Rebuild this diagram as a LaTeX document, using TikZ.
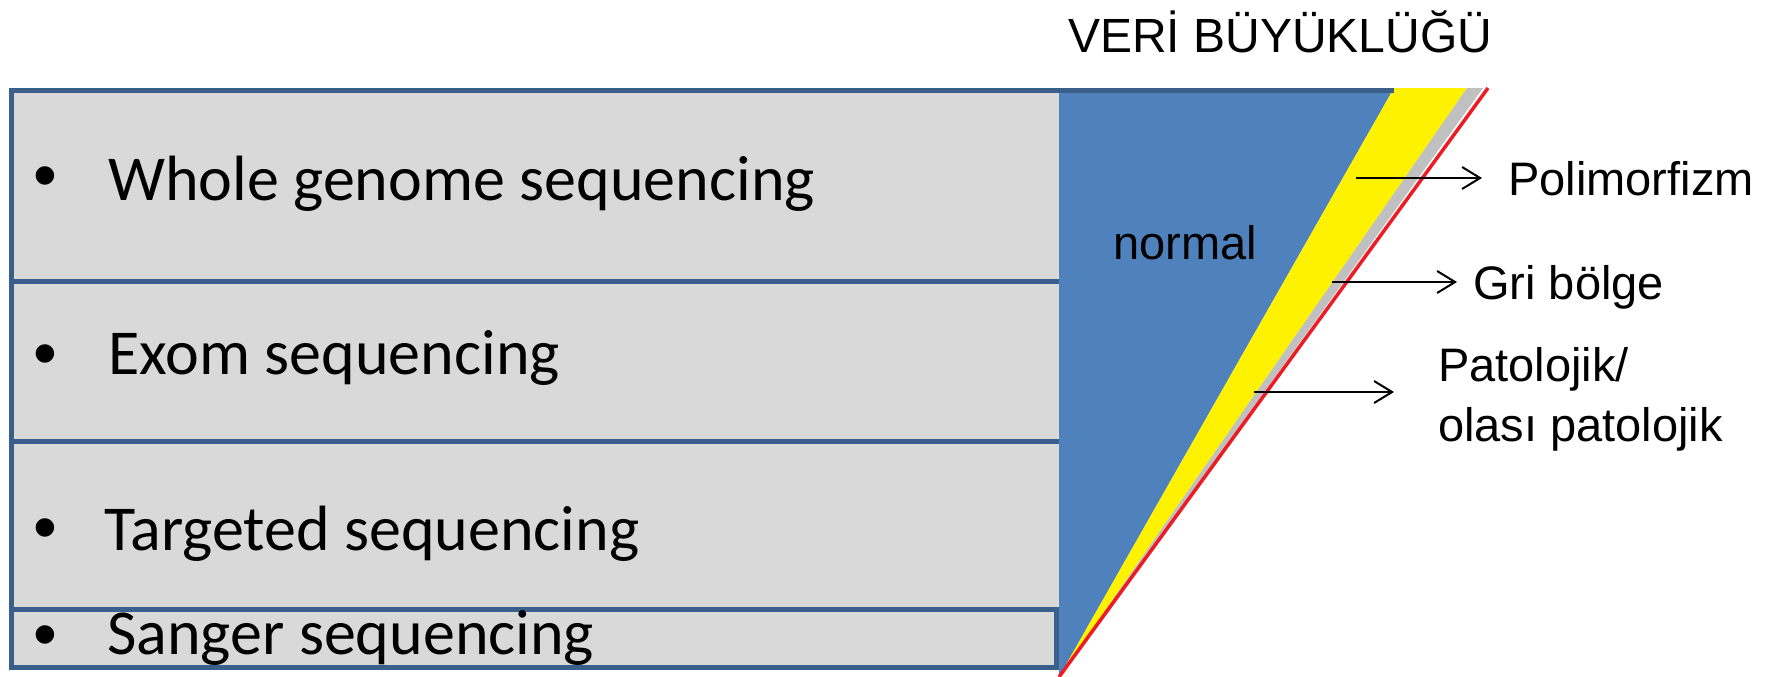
\documentclass[tikz,border=0pt]{standalone}
\usepackage{fontspec}
\usetikzlibrary{arrows.meta}
\newfontfamily\calfont{Carlito}
\newfontfamily\arifont{Liberation Sans}
\definecolor{boxfill}{HTML}{D9D9D9}
\definecolor{boxline}{HTML}{3A5F8B}
\definecolor{triblue}{HTML}{4F81BD}
\definecolor{triyellow}{HTML}{FFF200}
\definecolor{trigray}{HTML}{C0C0C0}
\definecolor{trired}{HTML}{ED1C24}
\tikzset{
  seqbox/.style={fill=boxfill, draw=boxline, line width=5pt},
  seqtext/.style={anchor=base west, inner sep=0pt, font=\calfont\fontsize{64}{77}\selectfont},
  bullet/.style={anchor=base, inner sep=0pt, font=\arifont\fontsize{68}{80}\selectfont},
  lbl/.style={anchor=base west, inner sep=0pt, font=\arifont\fontsize{47}{56}\selectfont},
  arr/.style={line width=2pt, -{Straight Barb[length=18pt,width=22pt,line width=2pt]}}
}
\begin{document}
\begin{tikzpicture}[x=1pt,y=-1pt]
\useasboundingbox (0,0) rectangle (1767,677);
% boxes
\draw[seqbox] (11,90) rectangle (1062,281);
\draw[seqbox] (11,281) rectangle (1062,441);
\draw[seqbox] (11,441) rectangle (1062,609);
\draw[seqbox] (11,609) rectangle (1056,667);
% triangle bands
\coordinate (apex) at (1059,677);
\fill[triblue] (1059,88) -- (1394,88) -- (apex) -- cycle;
\fill[triyellow] (1394,88) -- (1467,88) -- (apex) -- cycle;
\fill[trigray] (1467,88) -- (1483,88) -- (apex) -- cycle;
\draw[trired, line width=3.5pt] (1488,88) -- (apex);
\draw[boxline, line width=5pt] (1056,90) -- (1394,90);
% left texts
\node[bullet] (b1) at (45,198) {•};
\node[seqtext] (t1) at (108,200) {Whole genome sequencing};
\node[bullet] (b2) at (45,376) {•};
\node[seqtext] (t2) at (108,374) {Exom sequencing};
\node[bullet] (b3) at (45,550) {•};
\node[seqtext] (t3) at (104,550) {Targeted sequencing};
\node[bullet] (b4) at (45,657) {•};
\node[seqtext] (t4) at (107,654) {Sanger sequencing};
% right texts
\node[lbl, font=\arifont\fontsize{48}{56}\selectfont] (title) at (1068,53) {VERİ BÜYÜKLÜĞÜ};
\node[lbl] (normal) at (1113,259) {normal};
\node[lbl] (poli) at (1508,195) {Polimorfizm};
\node[lbl] (gri) at (1473,299) {Gri bölge};
\node[lbl] (pat1) at (1438,381) {Patolojik/};
\node[lbl] (pat2) at (1438,441) {olası patolojik};
% arrows
\coordinate (a1) at (1356,178);
\coordinate (a2) at (1332,282);
\coordinate (a3) at (1254,392);
\coordinate (e3) at (1394,392);
\draw[arr, shorten >=26pt] (a1) -- (a1 -| poli.west);
\draw[arr, shorten >=16pt] (a2) -- (a2 -| gri.west);
\draw[arr] (a3) -- (e3);
\end{tikzpicture}
\end{document}
